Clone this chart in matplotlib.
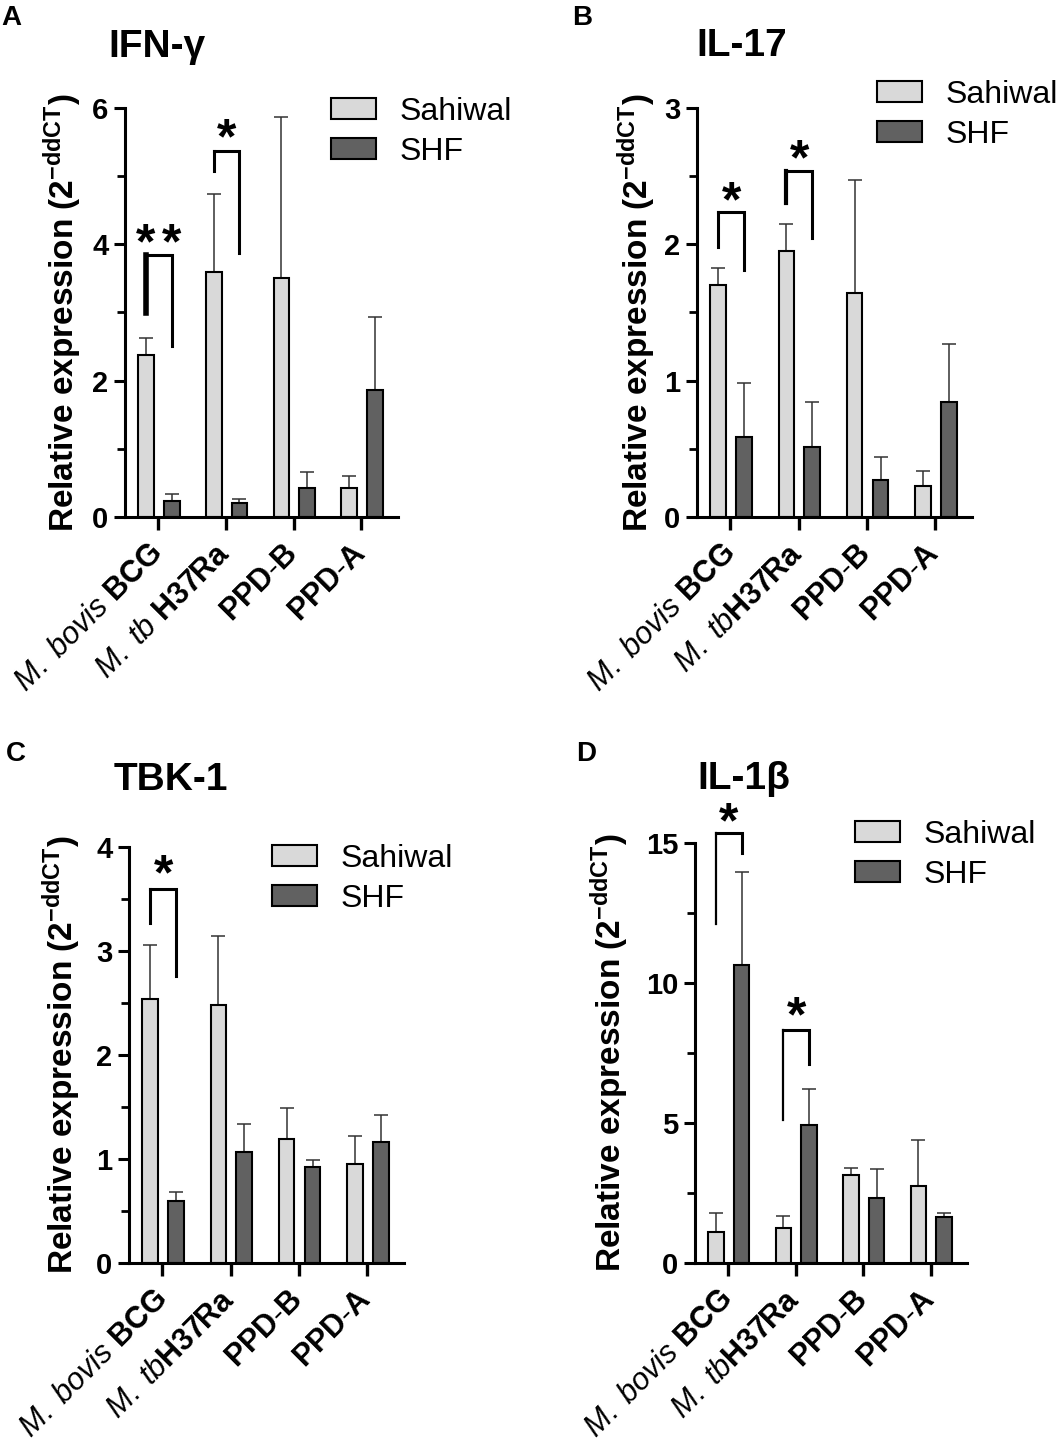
import matplotlib
matplotlib.use("Agg")
import matplotlib.pyplot as plt
import matplotlib.transforms as mtransforms
from matplotlib.patches import Patch
from matplotlib.ticker import MultipleLocator
import numpy as np

plt.rcParams["font.family"] = ["Liberation Sans", "DejaVu Sans"]
plt.rcParams["mathtext.fontset"] = "custom"
plt.rcParams["mathtext.rm"] = "Liberation Sans"
plt.rcParams["mathtext.it"] = "Liberation Sans:italic"
plt.rcParams["mathtext.bf"] = "Liberation Sans:bold"

# data
groups = ["Sahiwal", "SHF"]
labels_A = [r"$\mathit{M.\ bovis}$ $\mathbf{BCG}$", r"$\mathit{M.\ tb}$ $\mathbf{H37Ra}$",
            r"$\mathbf{PPD}$-$\mathbf{B}$", r"$\mathbf{PPD}$-$\mathbf{A}$"]
labels_BCD = [r"$\mathit{M.\ bovis}$ $\mathbf{BCG}$", r"$\mathit{M.\ tb}\mathbf{H37Ra}$",
              r"$\mathbf{PPD}$-$\mathbf{B}$", r"$\mathbf{PPD}$-$\mathbf{A}$"]

ifn_sahiwal = [2.37, 3.59, 3.51, 0.42]
ifn_sahiwal_err = [0.26, 1.15, 2.36, 0.18]
ifn_shf = [0.23, 0.20, 0.42, 1.87]
ifn_shf_err = [0.11, 0.07, 0.24, 1.07]

il17_sahiwal = [1.70, 1.95, 1.64, 0.23]
il17_sahiwal_err = [0.13, 0.20, 0.83, 0.11]
il17_shf = [0.59, 0.51, 0.27, 0.84]
il17_shf_err = [0.39, 0.33, 0.17, 0.43]

tbk1_sahiwal = [2.54, 2.48, 1.19, 0.95]
tbk1_sahiwal_err = [0.52, 0.66, 0.30, 0.27]
tbk1_shf = [0.60, 1.07, 0.92, 1.16]
tbk1_shf_err = [0.08, 0.27, 0.07, 0.26]

il1b_sahiwal = [1.10, 1.25, 3.13, 2.76]
il1b_sahiwal_err = [0.67, 0.43, 0.28, 1.62]
il1b_shf = [10.63, 4.92, 2.31, 1.65]
il1b_shf_err = [3.35, 1.31, 1.03, 0.15]

# significance: (group, bracket top, left leg bottom, right leg bottom, star y, stars, left leg width)
sig_A = [(0, 3.84, 2.99, 2.51, 4.2, "**", 4.0), (1, 5.37, 5.08, 3.88, 5.74, "*", 2.2)]
sig_B = [(0, 2.24, 1.98, 1.81, 2.41, "*", 2.2), (1, 2.54, 2.30, 2.05, 2.72, "*", 3.0)]
sig_C = [(0, 3.60, 3.27, 2.76, 3.86, "*", 2.2)]
sig_D = [(0, 15.36, 12.1, 14.64, 16.2, "*", 1.6), (1, 8.32, 5.1, 7.12, 9.27, "*", 1.6)]

light = "#d9d9d9"
dark = "#616161"
W, H = 1063, 1443

fig = plt.figure(figsize=(W / 100, H / 100), dpi=100)


def rect(left, top, right, bottom):
    return [left / W, 1 - bottom / H, (right - left) / W, (bottom - top) / H]


def panel(box, title, title_xy, letter, letter_xy, sah, sah_err, shf, shf_err,
          ymax, major, minor, xlabels, sig, leg_xy, ylab_x):
    ax = fig.add_axes(rect(*box))
    x = np.arange(4)
    off_s, off_h, bw = -0.18, 0.20, 0.23
    ax.bar(x + off_s, sah, bw, color=light, edgecolor="black", linewidth=1.5, zorder=2)
    ax.bar(x + off_h, shf, bw, color=dark, edgecolor="black", linewidth=1.5, zorder=2)
    ax.errorbar(x + off_s, sah, yerr=[np.zeros(4), sah_err], fmt="none",
                ecolor="#333333", elinewidth=1.1, capsize=5, capthick=1.1, zorder=1)
    ax.errorbar(x + off_h, shf, yerr=[np.zeros(4), shf_err], fmt="none",
                ecolor="#333333", elinewidth=1.1, capsize=5, capthick=1.1, zorder=1)

    ax.set_xlim(-0.49, 3.54)
    ax.set_ylim(0, ymax)
    ax.yaxis.set_major_locator(MultipleLocator(major))
    ax.yaxis.set_minor_locator(MultipleLocator(minor))
    for s in ["top", "right"]:
        ax.spines[s].set_visible(False)
    for s in ["left", "bottom"]:
        ax.spines[s].set_linewidth(2.2)
    ax.tick_params(axis="y", which="major", length=8, width=2.2, labelsize=21, pad=4)
    ax.tick_params(axis="y", which="minor", length=6, width=2.0)
    ax.tick_params(axis="x", length=9, width=2.4, pad=14)
    for t in ax.get_yticklabels():
        t.set_fontweight("bold")
    ax.set_xticks(x)
    ax.set_xticklabels(xlabels, rotation=45, ha="right", va="center",
                       rotation_mode="anchor", fontsize=22)

    ax.set_ylabel(r"Relative expression (2$^{\mathbf{-ddCT}}$)", fontsize=24,
                  fontweight="bold")
    ax.yaxis.label.set_va("center")
    ax.yaxis.set_label_coords(ylab_x, 0.5)

    # brackets and stars
    for g, top, lb, rb, sy, stars, llw in sig:
        xl, xr = g + off_s, g + off_h
        ax.plot([xl, xr, xr], [top, top, rb], color="black", lw=2.2,
                solid_joinstyle="miter", clip_on=False, zorder=3)
        ax.plot([xl, xl], [lb, top], color="black", lw=llw,
                solid_capstyle="projecting", clip_on=False, zorder=3)
        if stars == "**":
            sx = [xl, xr]
        else:
            sx = [(xl + xr) / 2]
        tr = mtransforms.offset_copy(ax.transData, fig=fig, x=0, y=-20, units="points")
        for xs in sx:
            ax.text(xs, sy, "*", fontsize=36, fontweight="bold", ha="center",
                    va="baseline", transform=tr, clip_on=False)

    handles = [Patch(facecolor=light, edgecolor="black", linewidth=1.5),
               Patch(facecolor=dark, edgecolor="black", linewidth=1.5)]
    ax.legend(handles, groups, loc="upper left",
              bbox_to_anchor=(leg_xy[0] / W, 1 - leg_xy[1] / H),
              bbox_transform=fig.transFigure, frameon=False, fontsize=23,
              handlelength=1.4, handleheight=0.62, handletextpad=0.75,
              labelspacing=0.3, borderpad=0, borderaxespad=0)

    fig.text(title_xy[0] / W, 1 - title_xy[1] / H, title, fontsize=28,
             fontweight="bold", ha="left", va="baseline")
    fig.text(letter_xy[0] / W, 1 - letter_xy[1] / H, letter, fontsize=20,
             fontweight="bold", ha="left", va="baseline")
    return ax


panel((125, 108, 398, 517), "IFN-γ", (108, 57), "A", (1, 25),
      ifn_sahiwal, ifn_sahiwal_err, ifn_shf, ifn_shf_err,
      6, 2, 1, labels_A, sig_A, (331, 97), -0.23)
panel((697, 108, 972, 517), "IL-17", (696, 56), "B", (572, 25),
      il17_sahiwal, il17_sahiwal_err, il17_shf, il17_shf_err,
      3, 1, 0.5, labels_BCD, sig_B, (877, 80), -0.22)
panel((129, 847, 404, 1263), "TBK-1", (114, 790), "C", (6, 761),
      tbk1_sahiwal, tbk1_sahiwal_err, tbk1_shf, tbk1_shf_err,
      4, 1, 0.5, labels_BCD, sig_C, (272, 844), -0.245)
panel((695, 843, 967, 1263), "IL-1β", (697, 789), "D", (576, 761),
      il1b_sahiwal, il1b_sahiwal_err, il1b_shf, il1b_shf_err,
      15, 5, 2.5, labels_BCD, sig_D, (855, 820), -0.315)

fig.savefig("out.png", dpi=100)
